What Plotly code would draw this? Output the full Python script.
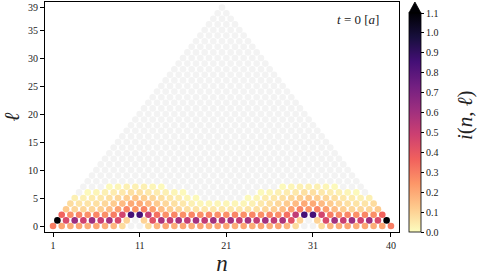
import plotly.graph_objects as go

# ---------------- data ----------------
N_SITES = 40
# information lattice values i(n, l), one list per scale l (row l has 40-l sites, n = 1 + l/2 + k)
row0 = [0.30, 0.21, 0.19, 0.21, 0.19, 0.21, 0.19, 0.17, 0.08, 0.00,
        0.00, 0.08, 0.17, 0.21, 0.19, 0.21, 0.19, 0.21, 0.19, 0.21,
        0.21, 0.19, 0.21, 0.19, 0.21, 0.19, 0.21, 0.17, 0.08, 0.00,
        0.00, 0.08, 0.17, 0.19, 0.21, 0.19, 0.21, 0.19, 0.21, 0.30]
row1 = [1.10, 0.45, 0.62, 0.48, 0.62, 0.50, 0.60, 0.45, 0.10, 0.00,
        0.10, 0.42, 0.58, 0.52, 0.60, 0.52, 0.60, 0.52, 0.60, 0.56,
        0.60, 0.52, 0.60, 0.52, 0.60, 0.52, 0.58, 0.42, 0.10, 0.00,
        0.10, 0.45, 0.60, 0.50, 0.62, 0.48, 0.62, 0.45, 1.10]
row2 = [0.36, 0.26, 0.28, 0.26, 0.28, 0.26, 0.30, 0.47, 0.85, 0.85,
        0.52, 0.33, 0.26, 0.28, 0.26, 0.28, 0.26, 0.28, 0.26, 0.26,
        0.28, 0.26, 0.28, 0.26, 0.28, 0.26, 0.33, 0.52, 0.85, 0.85,
        0.47, 0.30, 0.26, 0.28, 0.26, 0.28, 0.26, 0.36]
row3 = [0.12, 0.09, 0.09, 0.09, 0.11, 0.15, 0.22, 0.28, 0.24, 0.28,
        0.22, 0.15, 0.11, 0.09, 0.07, 0.06, 0.05, 0.05, 0.05, 0.05,
        0.05, 0.06, 0.07, 0.09, 0.11, 0.15, 0.22, 0.28, 0.24, 0.28,
        0.22, 0.15, 0.11, 0.09, 0.09, 0.09, 0.12]
row4 = [0.08, 0.06, 0.06, 0.07, 0.09, 0.12, 0.16, 0.20, 0.20, 0.16,
        0.12, 0.09, 0.07, 0.05, 0.03, 0.02, 0.02, 0.02, 0.02, 0.02,
        0.02, 0.03, 0.05, 0.07, 0.09, 0.12, 0.16, 0.20, 0.20, 0.16,
        0.12, 0.09, 0.07, 0.06, 0.06, 0.08]
row5 = [0.03, 0.03, 0.04, 0.05, 0.07, 0.09, 0.11, 0.13, 0.11, 0.09,
        0.07, 0.05, 0.04, 0.02, 0.01, 0.00, 0.00, 0.00, 0.00, 0.00,
        0.01, 0.02, 0.04, 0.05, 0.07, 0.09, 0.11, 0.13, 0.11, 0.09,
        0.07, 0.05, 0.04, 0.03, 0.03]
row6 = [0.00, 0.01, 0.02, 0.03, 0.04, 0.05, 0.07, 0.07, 0.05, 0.04,
        0.03, 0.02, 0.01, 0.00, 0.00, 0.00, 0.00, 0.00, 0.00, 0.00,
        0.00, 0.01, 0.02, 0.03, 0.04, 0.05, 0.07, 0.07, 0.05, 0.04,
        0.03, 0.02, 0.01, 0.00]
row7 = [0.00, 0.00, 0.00, 0.01, 0.02, 0.03, 0.03, 0.03, 0.02, 0.01,
        0.00, 0.00, 0.00, 0.00, 0.00, 0.00, 0.00, 0.00, 0.00, 0.00,
        0.00, 0.00, 0.00, 0.01, 0.02, 0.03, 0.03, 0.03, 0.02, 0.01,
        0.00, 0.00, 0.00]
# rows l = 8 ... 39 carry zero information (drawn only as grey lattice sites)
rows = [row0, row1, row2, row3, row4, row5, row6, row7]

x_ticks = [1, 11, 21, 31, 40]
y_ticks = [0, 5, 10, 15, 20, 25, 30, 35, 39]
cbar_ticks = [0.0, 0.1, 0.2, 0.3, 0.4, 0.5, 0.6, 0.7, 0.8, 0.9, 1.0, 1.1]
cmin, cmax = 0.0, 1.1
time_label = "<i>t</i> = 0 [<i>a</i>]"
cbar_label = "<i>i</i>(<i>n</i>, <i>ℓ</i>)"

# ---------------- build lattice ----------------
grey_x, grey_y = [], []
col_x, col_y, col_v = [], [], []
for l in range(N_SITES):
    vals = rows[l] if l < len(rows) else [0.0] * (N_SITES - l)
    for k, v in enumerate(vals):
        n = 1 + l / 2 + k
        if v > 0:
            col_x.append(n); col_y.append(l); col_v.append(v)
        else:
            grey_x.append(n); grey_y.append(l)

FONT = "Liberation Serif, DejaVu Serif, serif"
TXT = "#222"
MS = 6.6

fig = go.Figure()
fig.add_trace(go.Scatter(
    x=grey_x, y=grey_y, mode="markers",
    marker=dict(size=MS, color="#f3f3f3", line=dict(width=0)),
    hoverinfo="skip", showlegend=False))
fig.add_trace(go.Scatter(
    x=col_x, y=col_y, mode="markers",
    marker=dict(size=MS, color=col_v, colorscale="Magma_r", cmin=cmin, cmax=cmax,
                line=dict(width=0),
                colorbar=dict(
                    thickness=12, x=1.028, xanchor="left", xpad=0,
                    lenmode="pixels", len=219, y=0, yanchor="bottom", ypad=0,
                    tickvals=cbar_ticks, tickformat=".1f",
                    ticks="outside", ticklen=3, tickwidth=1, tickcolor="black",
                    tickfont=dict(family=FONT, size=10, color=TXT),
                    outlinewidth=0.8, outlinecolor="black")),
    showlegend=False))

# extend-max triangle above the colorbar
x0 = 1.028
x1 = 1.028 + 12 / 354
ytop = (232 - 13) / 230
fig.add_shape(type="path",
              path=f"M {x0},{ytop} L {x1},{ytop} L {(x0+x1)/2},1.0 Z",
              xref="paper", yref="paper", fillcolor="#000004",
              line=dict(color="black", width=0.8))

# colorbar label
fig.add_annotation(x=(465 - 45) / 354, y=(232 - 115) / 230, xref="paper", yref="paper",
                   text=cbar_label, showarrow=False, textangle=-90,
                   xanchor="center", yanchor="middle",
                   font=dict(family=FONT, size=21, color=TXT))

fig.add_annotation(x=0.95, y=0.925, xref="paper", yref="paper",
                   text=time_label, showarrow=False, xanchor="right", yanchor="middle",
                   font=dict(family=FONT, size=13, color=TXT))

axis_common = dict(showline=True, linecolor="black", linewidth=1, mirror=True,
                   ticks="outside", ticklen=4, tickwidth=1, tickcolor="black",
                   showgrid=False, zeroline=False,
                   tickfont=dict(family=FONT, size=10, color=TXT))
fig.update_xaxes(range=[0.07, 40.93], tickvals=x_ticks, **axis_common,
                 title=dict(text="<i>n</i>", font=dict(family=FONT, size=23, color=TXT),
                            standoff=5))
fig.update_yaxes(range=[-1.07, 40], tickvals=y_ticks, **axis_common,
                 title=dict(text="<i>ℓ</i>", font=dict(family=FONT, size=21, color=TXT),
                            standoff=6))

fig.update_layout(width=479, height=276, margin=dict(l=45, r=80, t=2, b=44, pad=0),
                  paper_bgcolor="white", plot_bgcolor="white")

fig.write_html("out.html", config={"displayModeBar": False})

# remove the browser's default page margin so the figure sits at the window origin
with open("out.html", encoding="utf-8") as f:
    html = f.read()
html = html.replace("<head>", "<head><style>html,body{margin:0;padding:0;overflow:hidden;}</style>", 1)
with open("out.html", "w", encoding="utf-8") as f:
    f.write(html)
